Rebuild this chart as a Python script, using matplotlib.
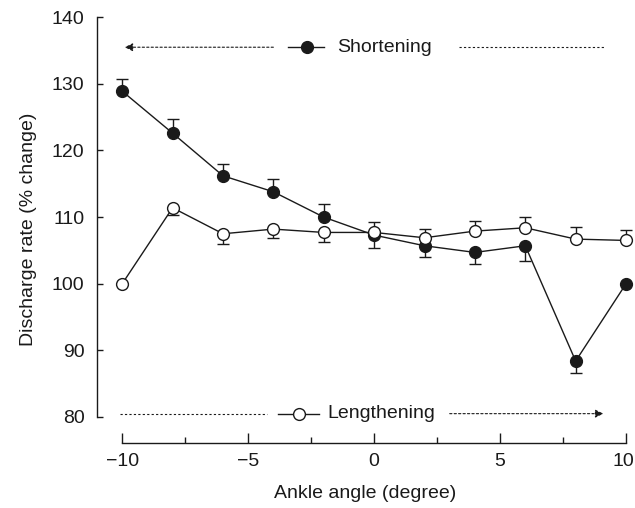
import matplotlib
matplotlib.use("Agg")
import matplotlib.pyplot as plt
import matplotlib.transforms as mtransforms
import numpy as np

plt.rcParams['font.family'] = ['Liberation Sans', 'DejaVu Sans']

angles = [-10, -8, -6, -4, -2, 0, 2, 4, 6, 8, 10]
shortening = [128.9, 122.6, 116.2, 113.8, 110.0, 107.3, 105.7, 104.7, 105.7, 88.4, 100.0]
short_err_up = [1.9, 2.2, 1.7, 1.9, 1.9, 0, 0, 0, 0, 0, 0]
short_err_down = [0, 0, 0, 0, 0, 1.9, 1.7, 1.7, 2.3, 1.8, 0]
lengthening = [100.0, 111.4, 107.5, 108.2, 107.7, 107.7, 106.9, 107.9, 108.4, 106.7, 106.5]
leng_err_up = [0, 0, 0, 0, 0, 1.5, 1.3, 1.5, 1.6, 1.8, 1.5]
leng_err_down = [0, 1.1, 1.6, 1.4, 1.5, 0, 0, 0, 0, 0, 0]
xticks = [-10, -5, 0, 5, 10]
yticks = [80, 90, 100, 110, 120, 130, 140]

FS = 14
C = '#1a1a1a'
fig = plt.figure(figsize=(6.35, 5.08), dpi=100)
ax = fig.add_axes([0.1528, 0.128, 0.845, 0.842])

ax.errorbar(angles, shortening, yerr=[short_err_down, short_err_up], fmt='-o',
            color=C, mfc=C, mec=C, ms=8.5, lw=1, elinewidth=1,
            capsize=4, capthick=1, zorder=3)
ax.errorbar(angles, lengthening, yerr=[leng_err_down, leng_err_up], fmt='-o',
            color=C, mfc='white', mec=C, ms=8.5, mew=1, lw=1, elinewidth=1,
            capsize=4, capthick=1, zorder=4)

# Shortening annotation row
ys = 135.5
ax.annotate('', xy=(-9.9, ys), xytext=(-4.0, ys),
            arrowprops=dict(arrowstyle='-|>', linestyle=(0, (2, 2)), lw=0.8,
                            color=C, mutation_scale=12, shrinkA=0, shrinkB=0))
ax.plot([-3.4, -2.0], [ys, ys], color=C, lw=1)
ax.plot([-2.65], [ys], 'o', color=C, ms=8.5)
ax.text(-1.45, ys, 'Shortening', fontsize=FS, va='center', ha='left', color=C)
ax.plot([3.35, 9.15], [ys, ys], color=C, lw=0.8, linestyle=(0, (2, 2)))

# Lengthening annotation row
yl = 80.5
ax.plot([-10.1, -4.25], [yl, yl], color=C, lw=0.8, linestyle=(0, (2, 2)))
ax.plot([-3.8, -2.2], [yl, yl], color=C, lw=1)
ax.plot([-3.0], [yl], 'o', color=C, mfc='white', ms=8.5, mew=1)
ax.text(-1.85, yl, 'Lengthening', fontsize=FS, va='center', ha='left', color=C)
ax.annotate('', xy=(9.1, yl), xytext=(3.0, yl),
            arrowprops=dict(arrowstyle='-|>', linestyle=(0, (2, 2)), lw=0.8,
                            color=C, mutation_scale=12, shrinkA=0, shrinkB=0))

ax.set_xlim(-11, 10.3)
ax.set_ylim(76.1, 140.3)
ax.spines['top'].set_visible(False)
ax.spines['right'].set_visible(False)
ax.spines['bottom'].set_bounds(-10, 10)
ax.spines['left'].set_bounds(80, 140)
for s in ('bottom', 'left'):
    ax.spines[s].set_linewidth(1)
    ax.spines[s].set_color(C)

ax.set_xticks(xticks)
ax.set_xticklabels(['\u221210', '\u22125', '0', '5', '10'])
ax.set_xticks([-7.5, -2.5, 2.5, 7.5], minor=True)
ax.set_yticks(yticks)
ax.tick_params(axis='both', which='both', colors=C)
ax.tick_params(axis='x', which='major', direction='in', length=7, width=1,
               labelsize=FS, pad=7)
ax.tick_params(axis='x', which='minor', direction='in', length=4, width=1)
ax.tick_params(axis='y', which='major', direction='in', length=4, width=1,
               labelsize=FS, pad=9)

# nudge the last x tick label so it stays inside the figure
last = ax.get_xticklabels()[-1]
last.set_transform(last.get_transform() +
                   mtransforms.ScaledTranslation(-3 / 100, 0, fig.dpi_scale_trans))

ax.set_xlabel('Ankle angle (degree)', fontsize=FS, labelpad=11, color=C)
ax.set_ylabel('Discharge rate (% change)', fontsize=FS, labelpad=11, color=C)

fig.savefig('out.png', dpi=100)
